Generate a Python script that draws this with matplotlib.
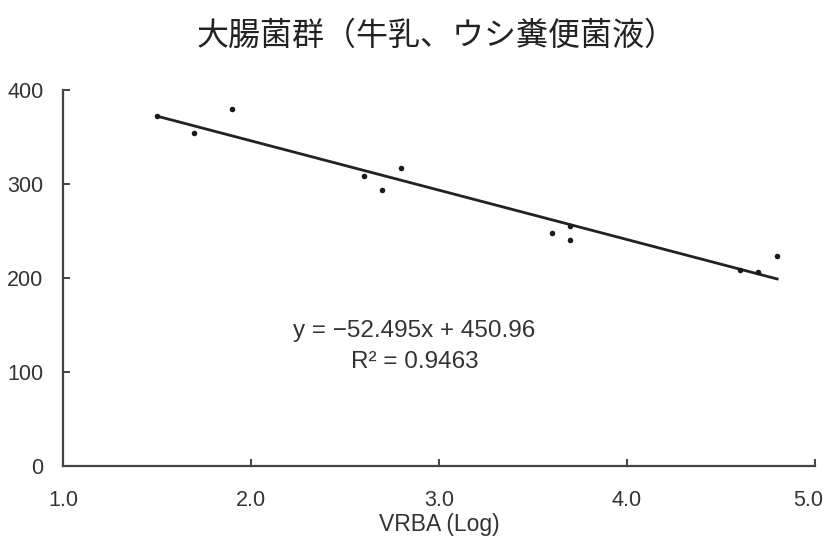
import matplotlib
matplotlib.use("Agg")
import matplotlib.pyplot as plt
import matplotlib.transforms as mtransforms
import numpy as np

# VRBA counts (log) vs. measured values
x_log = [1.5, 1.7, 1.9, 2.6, 2.7, 2.8, 3.6, 3.7, 3.7, 4.6, 4.7, 4.8]
y_vals = [372, 354, 380, 308, 294, 317, 248, 240, 255, 208, 206, 223]

slope = -52.495
intercept = 450.96
r_squared = 0.9463

x_ticks = [1.0, 2.0, 3.0, 4.0, 5.0]
y_ticks = [0, 100, 200, 300, 400]

title = "大腸菌群（牛乳、ウシ糞便菌液）"
x_label = "VRBA (Log)"

text_col = "#333333"
latin = ["Liberation Sans", "DejaVu Sans"]

fig = plt.figure(figsize=(8.28, 5.36), dpi=100)
ax = fig.add_axes([0.076, 0.1306, 0.908, 0.7015])

ax.scatter(x_log, y_vals, s=16, color="#1a1a1a", zorder=3, linewidths=0)

fit_x = np.array([min(x_log), max(x_log)])
ax.plot(fit_x, slope * fit_x + intercept, color="#222222", lw=2.0, zorder=2)

ax.set_xlim(1.0, 5.0)
ax.set_ylim(0, 400)
ax.set_xticks(x_ticks)
ax.set_xticklabels([f"{v:.1f}" for v in x_ticks])
ax.set_yticks(y_ticks)
for s in ("top", "right"):
    ax.spines[s].set_visible(False)
for s in ("left", "bottom"):
    ax.spines[s].set_color("#444444")
    ax.spines[s].set_linewidth(1.6)
ax.tick_params(axis="both", direction="in", length=5, width=1.4,
               color="#444444", labelsize=15.5, labelcolor=text_col)
ax.tick_params(axis="y", pad=14)
ax.tick_params(axis="x", pad=17)
for lab in ax.get_xticklabels() + ax.get_yticklabels():
    lab.set_family(latin)

# keep the last x label inside the canvas
last = ax.get_xticklabels()[-1]
last.set_transform(last.get_transform() +
                   mtransforms.ScaledTranslation(-7 / 100, 0, fig.dpi_scale_trans))

ax.set_xlabel(x_label, fontsize=16.5, color=text_col, family=latin,
              labelpad=2)

ax.text(2.87, 144, f"y = \u2212{abs(slope):.3f}x + {intercept:.2f}",
        ha="center", va="center", fontsize=17.5, color=text_col,
        family=latin)
ax.text(2.87, 111, f"R\u00b2 = {r_squared:.4f}",
        ha="center", va="center", fontsize=17.5, color=text_col,
        family=latin)

fig.text(0.527, 0.934, title, ha="center", va="center", fontsize=23,
         color="#222222", family=["Noto Sans CJK JP", "DejaVu Sans"])

fig.savefig("out.png", dpi=100, facecolor="white")
